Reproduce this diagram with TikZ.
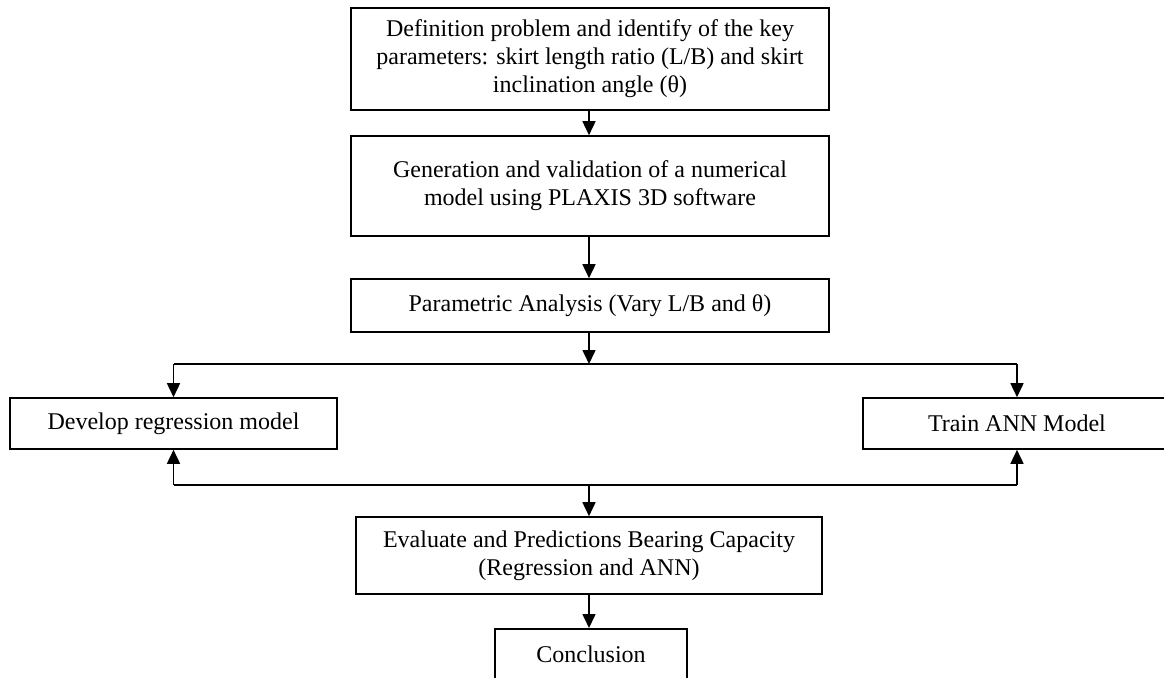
\documentclass[tikz,border=0pt]{standalone}
\usepackage{fontspec}
\setmainfont{Liberation Serif}
\usetikzlibrary{arrows.meta}
\begin{document}
\begin{tikzpicture}[x=1pt,y=-1pt,
  box/.style={draw,line width=1.6pt,align=center,inner sep=0pt,
    font=\fontsize{24}{28}\selectfont},
  conn/.style={line width=1.6pt},
  arr/.style={line width=1.6pt,-{Triangle[length=14pt,width=13pt]}}]
\useasboundingbox (0,0) rectangle (1164,677);
\clip (0,0) rectangle (1164,677);
\node[box,minimum width=478pt,minimum height=102pt] (def) at (590,59)
  {Definition problem and identify of the key\\parameters: skirt length ratio (L/B) and skirt\\inclination angle (θ)};
\node[box,minimum width=478pt,minimum height=100pt] (gen) at (590,186)
  {Generation and validation of a numerical\\model using PLAXIS 3D software};
\node[box,minimum width=478pt,minimum height=53pt] (par) at (590,305.5)
  {Parametric Analysis (Vary L/B and θ)};
\node[box,minimum width=327pt,minimum height=51pt] (reg) at (173.5,423.5)
  {Develop regression model};
\node[box,minimum width=308pt,minimum height=51pt] (ann) at (1017,423.5)
  {Train ANN Model};
\node[box,minimum width=466pt,minimum height=77pt] (eval) at (589,555.5)
  {Evaluate and Predictions Bearing Capacity\\(Regression and ANN)};
\node[box,minimum width=192pt,minimum height=80pt,anchor=north] (conc) at (591,628)
  {};
\node[font=\fontsize{24}{28}\selectfont] (conct) at (591,654) {Conclusion};
\coordinate (jt) at (589,364);
\coordinate (jtl) at (173.5,364);
\coordinate (jtr) at (1017,364);
\coordinate (jb) at (589,485);
\coordinate (jbl) at (173.5,485);
\coordinate (jbr) at (1017,485);
\draw[arr] (def.south -| jt) -- (gen.north -| jt);
\draw[arr] (gen.south -| jt) -- (par.north -| jt);
\draw[arr] (par.south -| jt) -- (jt);
\draw[conn] (jtl) -- (jtr);
\draw[arr] (jtl) -- (reg.north);
\draw[arr] (jtr) -- (ann.north);
\draw[conn] (jbl) -- (jbr);
\draw[arr] (jbl) -- (reg.south);
\draw[arr] (jbr) -- (ann.south);
\draw[arr] (jb) -- (eval.north -| jb);
\draw[arr] (eval.south -| jb) -- (conc.north -| jb);
\end{tikzpicture}
\end{document}
